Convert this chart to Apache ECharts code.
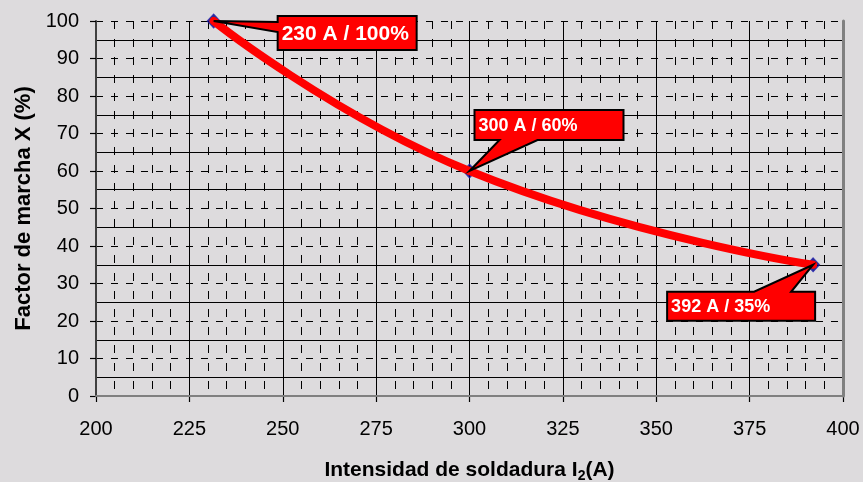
<!DOCTYPE html>
<html>
<head>
<meta charset="utf-8">
<script src="https://cdn.jsdelivr.net/npm/echarts@6/dist/echarts.min.js"></script>
<style>
html,body{margin:0;padding:0;background:#dddbdd;}
#chart{width:863px;height:482px;}
</style>
</head>
<body>
<div id="chart"></div>
<script>
// ---- data ----
const currentA = [231.5, 300, 392];          // Intensidad de soldadura (A)
const dutyPct = [100, 60, 35];               // Factor de marcha X (%)
const calloutLabels = ['230 A / 100%', '300 A / 60%', '392 A / 35%'];
const xAxisMin = 200, xAxisMax = 400, xAxisStep = 25;
const yAxisMin = 0, yAxisMax = 100, yAxisStep = 10;

// ---- callout layout (pixel offsets relative to the anchored point) ----
const calloutLayout = [
  { box: [64, -5, 203, 29], side: 'left', wedge: [1, 11], font: 21 },
  { box: [5, -61, 154, -31], side: 'bottom', wedge: [30, 68], font: 18 },
  { box: [-146, 27, 2, 56], side: 'top', wedge: [-59, -22], font: 18 }
];

const FONT = 'Liberation Sans, Arial, sans-serif';
const pts = currentA.map((x, i) => [x, dutyPct[i]]);

const chart = echarts.init(document.getElementById('chart'));

function renderCallout(params, api) {
  const i = params.dataIndex;
  const L = calloutLayout[i];
  const p = api.coord([api.value(0), api.value(1)]);
  const px = p[0], py = p[1];
  const x0 = px + L.box[0], y0 = py + L.box[1], x1 = px + L.box[2], y1 = py + L.box[3];
  let poly;
  if (L.side === 'left') {
    poly = [[x0, y0], [x1, y0], [x1, y1], [x0, y1], [x0, py + L.wedge[1]], [px, py], [x0, py + L.wedge[0]]];
  } else if (L.side === 'bottom') {
    poly = [[x0, y0], [x1, y0], [x1, y1], [px + L.wedge[1], y1], [px, py], [px + L.wedge[0], y1], [x0, y1]];
  } else {
    poly = [[x0, y0], [px + L.wedge[0], y0], [px, py], [px + L.wedge[1], y0], [x1, y0], [x1, y1], [x0, y1]];
  }
  return {
    type: 'group',
    children: [
      { type: 'polygon', shape: { points: poly }, style: { fill: '#ff0000', stroke: '#000', lineWidth: 2, lineJoin: 'miter' } },
      { type: 'text', style: { text: calloutLabels[i], x: x0 + 4, y: (y0 + y1) / 2 + 1, verticalAlign: 'middle', align: 'left',
        fill: '#fff', fontSize: L.font, fontWeight: 'bold', fontFamily: FONT } }
    ]
  };
}

chart.setOption({
  backgroundColor: '#dddbdd',
  animation: false,
  textStyle: { fontFamily: FONT },
  grid: { left: 96, right: 20, top: 21, bottom: 86, containLabel: false, outerBoundsMode: 'none' },
  xAxis: [
    {
      type: 'value', min: xAxisMin, max: xAxisMax, interval: xAxisStep,
      name: '{a|Intensidad de soldadura I}{s|2}{a|(A)}',
      nameLocation: 'middle', nameGap: 61,
      nameTextStyle: {
        rich: {
          a: { fontSize: 21, fontWeight: 'bold', color: '#000', fontFamily: FONT },
          s: { fontSize: 14, fontWeight: 'bold', color: '#000', fontFamily: FONT, verticalAlign: 'bottom', padding: [12, 0, 0, 0] }
        }
      },
      axisLine: { show: true, onZero: false, lineStyle: { color: '#000', width: 1.5 } },
      axisTick: { show: true, inside: false, length: 6, lineStyle: { color: '#000', width: 1.2 } },
      axisLabel: { fontSize: 20, color: '#000', margin: 23, fontFamily: FONT },
      splitLine: { show: true, lineStyle: { color: '#000', width: 1, type: 'solid' } },
      minorTick: { show: false, splitNumber: 5 },
      minorSplitLine: { show: true, lineStyle: { color: '#000', width: 1, type: [8, 10] } },
      z: 1
    },
    {
      type: 'value', min: xAxisMin, max: xAxisMax, position: 'top',
      axisLine: { show: true, lineStyle: { color: '#808080', width: 2 } },
      axisTick: { show: false }, axisLabel: { show: false }, splitLine: { show: false },
      z: 3
    }
  ],
  yAxis: [
    {
      type: 'value', min: yAxisMin, max: yAxisMax, interval: yAxisStep,
      name: 'Factor de marcha X (%)', nameLocation: 'middle', nameGap: 61, nameRotate: 90,
      nameTextStyle: { fontSize: 22, fontWeight: 'bold', color: '#000', fontFamily: FONT },
      axisLine: { show: true, onZero: false, lineStyle: { color: '#404040', width: 2 } },
      axisTick: { show: true, inside: false, length: 6, lineStyle: { color: '#000', width: 1.2 } },
      axisLabel: { fontSize: 20, color: '#000', margin: 17, fontFamily: FONT },
      splitLine: { show: true, lineStyle: { color: '#000', width: 1, type: [7, 8] } },
      minorTick: { show: false, splitNumber: 2 },
      minorSplitLine: { show: true, lineStyle: { color: '#000', width: 1, type: 'solid' } },
      z: 1
    },
    {
      type: 'value', min: yAxisMin, max: yAxisMax, position: 'right',
      axisLine: { show: true, lineStyle: { color: '#808080', width: 3 } },
      axisTick: { show: false }, axisLabel: { show: false }, splitLine: { show: false },
      z: 3
    }
  ],
  series: [
    {
      type: 'scatter', data: pts, symbol: 'diamond', symbolSize: [13, 14],
      itemStyle: { color: '#000080', borderColor: '#2020b0', borderWidth: 1 },
      z: 2, silent: true
    },
    {
      type: 'line', data: pts, smooth: 0.5, symbol: 'none',
      lineStyle: { color: '#ff0000', width: 8, cap: 'round' },
      z: 3, silent: true
    },
    {
      type: 'custom', data: pts, renderItem: renderCallout, clip: false, z: 5, silent: true
    }
  ]
});
</script>
</body>
</html>
